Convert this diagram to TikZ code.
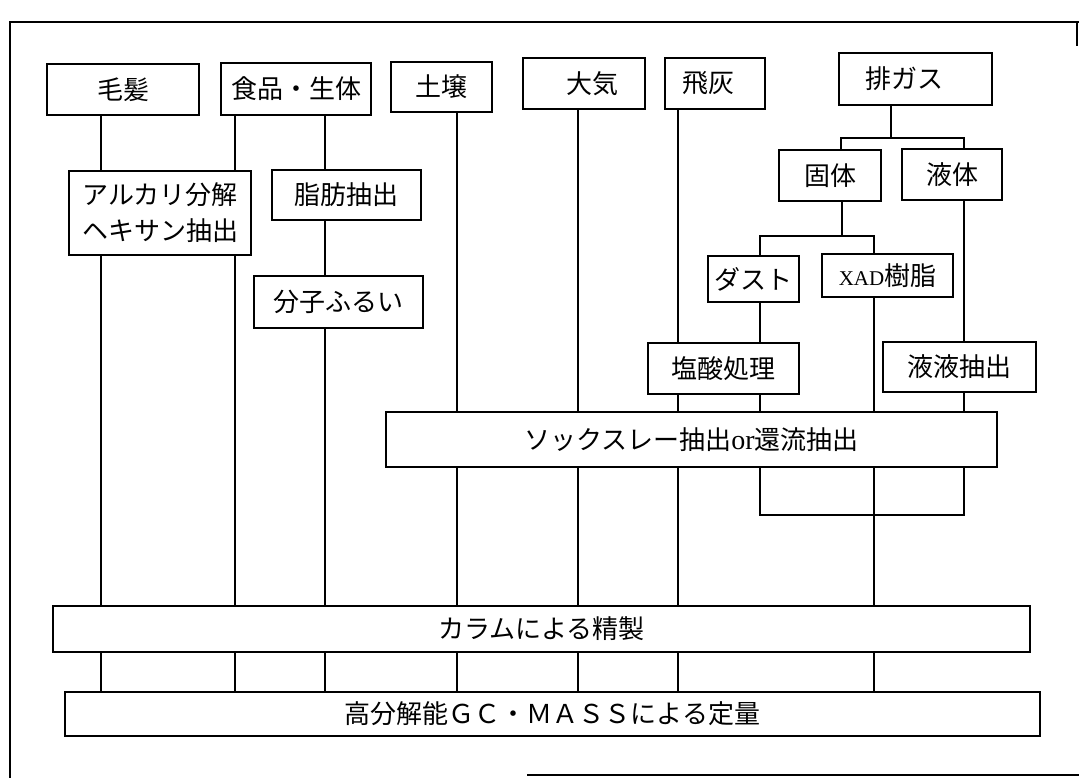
\documentclass[tikz,border=0pt]{standalone}
\usepackage{fontspec}
\newfontfamily\jp{Noto Sans CJK JP}
\newfontfamily\lser{Liberation Serif}
\begin{document}
\begin{tikzpicture}[x=1pt,y=-1pt,
  box/.style={draw, line width=1.8pt, fill=white, inner sep=0pt,
    font=\jp\fontsize{26}{36}\selectfont, align=center},
  ln/.style={line width=1.6pt},
  frameline/.style={line width=1.8pt}]
\useasboundingbox (0,0) rectangle (1079,778);
% frame
\draw[frameline] (10,778) -- (10,22) -- (1079,22);
\draw[frameline] (1077,22) -- (1077,46);
\draw[frameline] (527,775) -- (1079,775);
% boxes
\node[box, minimum width=152, minimum height=51] (kami)   at (123,89.5) {毛髪};
\node[box, minimum width=150, minimum height=52] (shoku)  at (296,89)   {食品・生体};
\node[box, minimum width=101, minimum height=50] (dojo)   at (441.5,87) {土壌};
\node[box, minimum width=122, minimum height=51] (taiki)  at (584,83.5) {\hspace*{16pt}大気};
\node[box, minimum width=100, minimum height=51] (hihai)  at (715,83.5) {飛灰\hspace*{14pt}};
\node[box, minimum width=153, minimum height=52] (haigas) at (915.5,79) {排ガス\hspace*{22pt}};
\node[box, minimum width=102, minimum height=51] (kotai)  at (830,175.5) {固体};
\node[box, minimum width=100, minimum height=51] (ekitai) at (952,174.5) {液体};
\node[box, minimum width=91,  minimum height=46] (dust)   at (753.5,279) {ダスト};
\node[box, minimum width=131, minimum height=43] (xad)    at (887.5,275.5) {{\lser\fontsize{21}{21}\selectfont XAD}樹脂};
\node[box, minimum width=182, minimum height=84] (alkali) at (160,213)  {アルカリ分解\\ヘキサン抽出};
\node[box, minimum width=149, minimum height=50] (shibo)  at (346.5,195) {脂肪抽出};
\node[box, minimum width=169, minimum height=52] (bunshi) at (338.5,302) {分子ふるい};
\node[box, minimum width=151, minimum height=51] (ensan)  at (723.5,368.5) {塩酸処理};
\node[box, minimum width=153, minimum height=50] (ekieki) at (959.5,367) {液液抽出};
\node[box, minimum width=611, minimum height=55] (sox)    at (691.5,439.5) {ソックスレー抽出{\lser\fontsize{28}{28}\selectfont or}還流抽出};
\node[box, minimum width=977, minimum height=46] (column) at (541.5,629) {カラムによる精製};
\node[box, minimum width=975, minimum height=44] (gc)     at (552.5,714) {高分解能ＧＣ・ＭＡＳＳによる定量};
% x positions of the vertical lines
\coordinate (xa) at (101,0);
\coordinate (xb) at (235,0);
\coordinate (xc) at (325,0);
\coordinate (xd) at (457,0);
\coordinate (xe) at (578,0);
\coordinate (xf) at (678,0);
\coordinate (xi) at (760,0);
\coordinate (xj) at (874,0);
\coordinate (xk) at (964,0);
% junctions
\coordinate (j1)  at (891,138);
\coordinate (j1l) at (841,138);
\coordinate (j1r) at (964,138);
\coordinate (j2)  at (842,236);
\coordinate (j2l) at (760,236);
\coordinate (j2r) at (874,236);
\coordinate (b1)  at (760,515);
\coordinate (b2)  at (964,515);
% hair
\draw[ln] (kami.south -| xa) -- (alkali.north -| xa);
\draw[ln] (alkali.south -| xa) -- (column.north -| xa);
\draw[ln] (column.south -| xa) -- (gc.north -| xa);
% food left
\draw[ln] (shoku.south -| xb) -- (alkali.north -| xb);
\draw[ln] (alkali.south -| xb) -- (column.north -| xb);
\draw[ln] (column.south -| xb) -- (gc.north -| xb);
% food right
\draw[ln] (shoku.south -| xc) -- (shibo.north -| xc);
\draw[ln] (shibo.south -| xc) -- (bunshi.north -| xc);
\draw[ln] (bunshi.south -| xc) -- (column.north -| xc);
\draw[ln] (column.south -| xc) -- (gc.north -| xc);
% soil
\draw[ln] (dojo.south -| xd) -- (sox.north -| xd);
\draw[ln] (sox.south -| xd) -- (column.north -| xd);
\draw[ln] (column.south -| xd) -- (gc.north -| xd);
% air
\draw[ln] (taiki.south -| xe) -- (sox.north -| xe);
\draw[ln] (sox.south -| xe) -- (column.north -| xe);
\draw[ln] (column.south -| xe) -- (gc.north -| xe);
% fly ash
\draw[ln] (hihai.south -| xf) -- (ensan.north -| xf);
\draw[ln] (ensan.south -| xf) -- (sox.north -| xf);
\draw[ln] (sox.south -| xf) -- (column.north -| xf);
\draw[ln] (column.south -| xf) -- (gc.north -| xf);
% exhaust gas
\draw[ln] (haigas.south -| j1) -- (j1);
\draw[ln] (kotai.north -| j1l) -- (j1l) -- (j1r) -- (ekitai.north -| j1r);
\draw[ln] (kotai.south -| j2) -- (j2);
\draw[ln] (dust.north -| j2l) -- (j2l) -- (j2r) -- (xad.north -| j2r);
\draw[ln] (dust.south -| xi) -- (ensan.north -| xi);
\draw[ln] (ensan.south -| xi) -- (sox.north -| xi);
\draw[ln] (xad.south -| xj) -- (sox.north -| xj);
\draw[ln] (sox.south -| xj) -- (column.north -| xj);
\draw[ln] (column.south -| xj) -- (gc.north -| xj);
\draw[ln] (ekitai.south -| xk) -- (ekieki.north -| xk);
\draw[ln] (ekieki.south -| xk) -- (sox.north -| xk);
\draw[ln] (sox.south -| xi) -- (b1) -- (b2) -- (sox.south -| xk);
\end{tikzpicture}
\end{document}
